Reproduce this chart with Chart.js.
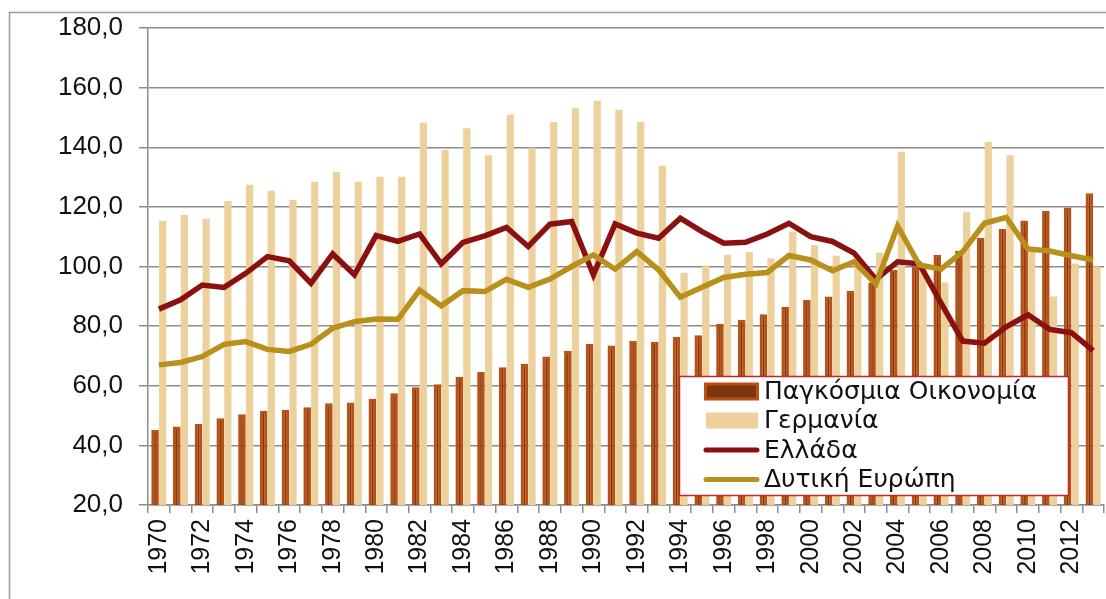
<!DOCTYPE html>
<html>
<head>
<meta charset="utf-8">
<script src="https://cdn.jsdelivr.net/npm/chart.js@4.4.1/dist/chart.umd.min.js"></script>
<style>
    html, body { margin: 0; padding: 0; background: #fff; }
    #wrap { width: 1106px; height: 599px; position: relative; }
</style>
</head>
<body>
<div id="wrap"><canvas id="myChart" width="1106" height="599"></canvas></div>
<script>
// years on the x axis
const years = ["1970","1971","1972","1973","1974","1975","1976","1977","1978","1979",
    "1980","1981","1982","1983","1984","1985","1986","1987","1988","1989",
    "1990","1991","1992","1993","1994","1995","1996","1997","1998","1999",
    "2000","2001","2002","2003","2004","2005","2006","2007","2008","2009",
    "2010","2011","2012","2013"];

// Παγκόσμια Οικονομία (bars)
const world = [45.2, 46.3, 47.2, 49.1, 50.4, 51.5, 51.9, 52.8, 54.1, 54.4,
    55.6, 57.5, 59.5, 60.5, 63.0, 64.6, 66.2, 67.4, 69.8, 71.7,
    74.0, 73.5, 75.1, 74.8, 76.4, 76.9, 80.7, 82.1, 84.0, 86.4,
    88.8, 89.9, 91.9, 94.6, 98.9, 100.0, 103.9, 105.3, 109.6, 112.6,
    115.4, 118.7, 119.8, 124.6];

// Γερμανία (bars)
const germany = [115.3, 117.3, 116.0, 122.0, 127.4, 125.4, 122.3, 128.4, 131.7, 128.4,
    130.1, 130.1, 148.2, 139.1, 146.4, 137.3, 150.9, 139.8, 148.5, 153.1,
    155.6, 152.6, 148.5, 133.8, 97.9, 100.3, 103.9, 104.9, 102.8, 111.7,
    107.2, 103.6, 100.0, 104.6, 138.5, 99.0, 94.6, 118.2, 141.8, 137.3,
    105.0, 89.9, 101.0, 100.0];

// Ελλάδα (line)
const greece = [85.7, 88.8, 93.8, 93.0, 97.7, 103.3, 101.9, 94.4, 104.2, 97.2,
    110.4, 108.4, 110.9, 100.9, 108.1, 110.3, 113.1, 106.7, 114.2, 115.1,
    97.2, 114.3, 111.2, 109.5, 116.2, 111.7, 107.8, 108.1, 110.9, 114.5,
    110.0, 108.4, 104.5, 95.7, 101.6, 100.9, 87.7, 75.0, 74.3, 79.8,
    83.8, 78.9, 77.8, 71.8];

// Δυτική Ευρώπη (line)
const westEurope = [67.0, 67.8, 69.8, 73.9, 74.8, 72.2, 71.5, 73.9, 79.3, 81.5,
    82.4, 82.3, 92.1, 86.8, 91.9, 91.6, 95.7, 93.0, 95.8, 100.0,
    103.9, 99.1, 105.0, 98.9, 89.7, 93.0, 96.3, 97.4, 98.0, 103.7,
    102.2, 98.6, 101.6, 94.1, 113.6, 100.5, 99.1, 105.0, 114.5, 116.5,
    105.9, 105.2, 103.6, 102.2];

const gridGray = "#8c8c8c";

// grey frame round the whole chart (right and bottom edges fall outside the picture)
const framePlugin = {
    id: "frame",
    beforeDraw(chart) {
        const ctx = chart.ctx;
        ctx.save();
        ctx.fillStyle = "#fff";
        ctx.fillRect(0, 0, chart.width, chart.height);
        ctx.strokeStyle = "#9a9a9a";
        ctx.lineWidth = 1.5;
        ctx.strokeRect(9.5, 12.5, 1300, 800);
        ctx.restore();
    }
};

// legend box drawn inside the plot, like the original
const boxLegend = {
    id: "boxLegend",
    afterDraw(chart) {
        const ctx = chart.ctx;
        const x = 679, y = 376, w = 389, h = 119;
        ctx.save();
        ctx.fillStyle = "#fff";
        ctx.fillRect(x, y, w, h);
        ctx.strokeStyle = "#c0272d";
        ctx.lineWidth = 1.5;
        ctx.strokeRect(x + 0.5, y + 0.5, w, h);

        const rows = [391.5, 420.5, 450, 479.5];
        chart.data.datasets.forEach(function(ds, i) {
            const cy = rows[i];
            if (ds.type === "bar") {
                if (i === 0) {
                    ctx.fillStyle = ds.borderColor;
                    ctx.fillRect(704, cy - 9, 55, 18);
                    ctx.fillStyle = ds.backgroundColor;
                    ctx.fillRect(707, cy - 6, 49, 12);
                } else {
                    ctx.fillStyle = ds.backgroundColor;
                    ctx.fillRect(706, cy - 8, 52, 16);
                }
            } else {
                ctx.strokeStyle = ds.borderColor;
                ctx.lineWidth = 5;
                ctx.lineCap = "round";
                ctx.beginPath();
                ctx.moveTo(706, cy);
                ctx.lineTo(757, cy);
                ctx.stroke();
            }
            ctx.fillStyle = "#111";
            ctx.font = "25px 'DejaVu Sans'";
            ctx.textBaseline = "middle";
            ctx.textAlign = "left";
            ctx.fillText(ds.label, 764, cy + 1);
        });
        ctx.restore();
    }
};

new Chart("myChart", {
    data: {
        labels: years,
        datasets: [{
            type: "bar",
            label: "Παγκόσμια Οικονομία",
            data: world,
            backgroundColor: "#7e3511",
            borderColor: "#bb5010",
            borderWidth: {left: 3, right: 3, top: 2, bottom: 0},
            categoryPercentage: 0.7,
            barPercentage: 1.0,
            order: 2
        }, {
            type: "bar",
            label: "Γερμανία",
            data: germany,
            backgroundColor: "#ecd19c",
            borderWidth: 0,
            categoryPercentage: 0.7,
            barPercentage: 0.95,
            order: 3
        }, {
            type: "line",
            label: "Ελλάδα",
            data: greece,
            borderColor: "#8b1111",
            borderWidth: 5.5,
            pointRadius: 0,
            tension: 0,
            order: 1
        }, {
            type: "line",
            label: "Δυτική Ευρώπη",
            data: westEurope,
            borderColor: "#b8901b",
            borderWidth: 5.5,
            pointRadius: 0,
            tension: 0,
            order: 0
        }]
    },
    options: {
        responsive: false,
        animation: false,
        layout: {padding: {left: 0, right: 2, top: 28, bottom: 0}},
        plugins: {
            legend: {display: false},
            tooltip: {enabled: false}
        },
        scales: {
            x: {
                offset: true,
                afterFit: function(scale) {
                    scale.height = 94;
                    scale.paddingLeft = 0;
                    scale.paddingRight = 0;
                },
                grid: {
                    offset: true,
                    drawOnChartArea: false,
                    drawTicks: true,
                    tickLength: 8,
                    color: gridGray,
                    lineWidth: 1.5
                },
                border: {display: true, color: gridGray, width: 1.5},
                ticks: {
                    autoSkip: false,
                    minRotation: 90,
                    maxRotation: 90,
                    padding: 6,
                    color: "#111",
                    font: {family: "'Liberation Sans'", size: 25},
                    callback: function(value, index) {
                        return index % 2 === 0 ? years[index] : "";
                    }
                }
            },
            y: {
                min: 20,
                max: 180,
                afterFit: function(scale) {
                    scale.width = 148;
                    scale.paddingTop = 0;
                    scale.paddingBottom = 0;
                },
                grid: {
                    color: gridGray,
                    lineWidth: 1.5,
                    tickLength: 9
                },
                border: {display: true, color: gridGray, width: 1.5},
                ticks: {
                    stepSize: 20,
                    padding: 16,
                    color: "#111",
                    font: {family: "'Liberation Sans'", size: 26},
                    callback: function(v) { return v.toFixed(1).replace(".", ","); }
                }
            }
        }
    },
    plugins: [framePlugin, boxLegend]
});
</script>
</body>
</html>
